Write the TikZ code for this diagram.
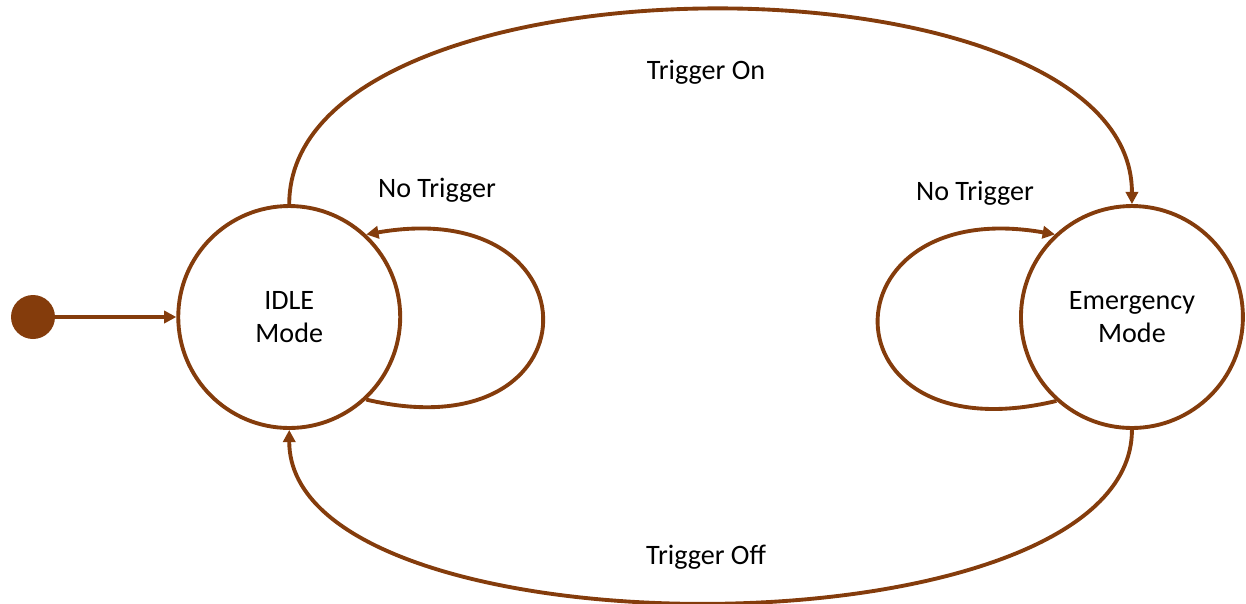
\documentclass[tikz,border=0pt]{standalone}
\usepackage{fontspec}
\setmainfont{Carlito}
\usepackage{tikz}
\usetikzlibrary{arrows.meta,positioning}
\definecolor{rust}{HTML}{843C0C}
\tikzset{
  state/.style={circle,draw=rust,line width=2.2pt,minimum size=4.44cm,inner sep=0pt,
    align=center,fill=white,font=\fontsize{16}{19}\selectfont},
  init/.style={circle,fill=rust,minimum size=0.88cm,inner sep=0pt},
  trans/.style={-{Triangle[length=7pt,width=7pt]},line width=2.2pt,draw=rust},
  lbl/.style={font=\fontsize{16}{19}\selectfont}
}

\begin{document}
\begin{tikzpicture}[x=0.02cm,y=-0.02cm]
 \useasboundingbox (0,0) rectangle (1246,603);
 \node[init] (start) at (33,317) {};
 \node[state,right=2.42cm of start] (idle) {IDLE\\Mode};
 \node[state,right=12.34cm of idle] (emerg) {Emergency\\Mode};
 \node[lbl] (lon) at (706,72) {Trigger On};
 \node[lbl] (loff) at (706,557) {Trigger Off};
 \node[lbl] (lnoa) at (437,190) {No Trigger};
 \node[lbl] (lnob) at (975,193) {No Trigger};
 \draw[trans] (start)--(idle);
 \draw[trans] (idle.north) .. controls +(0,-259) and +(0,-259) .. (emerg.north);
 \draw[trans] (emerg.south) .. controls +(0,230) and +(0,230) .. (idle.south);
 \draw[trans] (idle.-47) .. controls +(233,55) and +(235,-41) .. (idle.47);
 \draw[trans] (emerg.228) .. controls +(-237,57) and +(-234,-41) .. (emerg.133.5);
\end{tikzpicture}
\end{document}
